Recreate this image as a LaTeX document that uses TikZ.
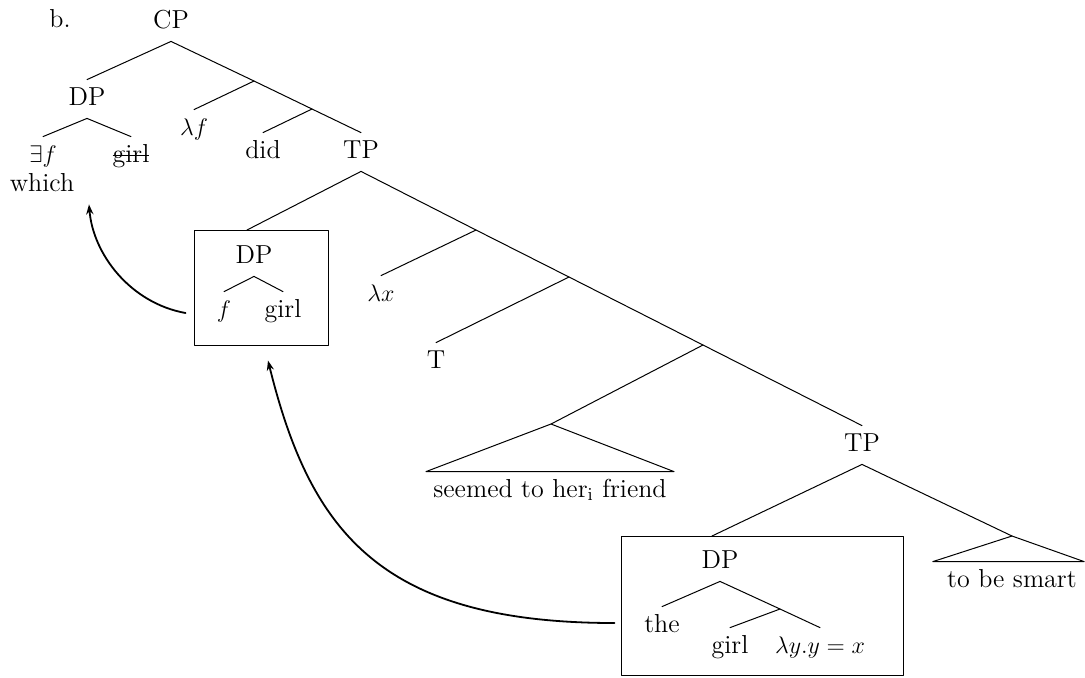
\documentclass[tikz,border=0pt]{standalone}
\usetikzlibrary{arrows.meta}
\newcommand\strikeout[1]{\setbox0\hbox{#1}\rlap{\rule[0.22em]{\wd0}{0.6pt}}\box0}
\begin{document}
\begin{tikzpicture}[x=0.5pt,y=-0.5pt,font=\fontsize{13}{15}\selectfont, line join=round, line cap=round, >=stealth,
	lbl/.style={anchor=base,inner sep=3.5pt,text height=9pt,text depth=3pt},
	br/.style={line width=0.5pt},
	bx/.style={draw,line width=0.5pt,inner sep=0pt},
	mv/.style={-{Stealth[length=5pt,width=3.6pt]},line width=0.9pt}]
				\useasboundingbox (0,0) rectangle (1085,677);
				\path(60,27)node[lbl](ex){b.}
				(171,28)node[lbl](cp){CP}
				(87,105)node[lbl](dp){DP}
				(43,162)node[lbl](ef){$\exists f$}
				(131,162)node[lbl](girla){\strikeout{girl}}
				(ef)++(-1,35)node[lbl](which){which}
				(194,135)node[lbl](lamf){$\lambda f$}
				(263,158)node[lbl](did){did}
				(361,158)node[lbl](tp){TP}
				;
				\path
				(261,287.5)node[bx,minimum width=67pt,minimum height=57.5pt](boxf){}
				(254,263)node[lbl](dpf){DP}
				(224,317)node[lbl](f){$f$}
				(283,317)node[lbl](girlf){girl}
				(381,301)node[lbl](lamx){$\lambda x$}
				(436,368)node[lbl](t){T}
				(550,497)node[lbl](seem){seemed to her$_{\mathrm{i}}$ friend}
				(862,451)node[lbl](tps){TP}
				(1012,587)node[lbl](smart){to be smart}
				;
				\path
				(762,605.5)node[bx,minimum width=141pt,minimum height=69.5pt](boxt){}
				(720,568)node[lbl](dpt){DP}
				(662,632)node[lbl](the){the}
				(730,653)node[lbl](girlt){girl}
				(820,653)node[lbl](lamy){$\lambda y.y=x$}
				;
				\coordinate (c1) at (254,81);
				\coordinate (c2) at (312,109);
				\coordinate (t1) at (476,230);
				\coordinate (t2) at (569,277);
				\coordinate (t3) at (703,345);
				\coordinate (tri1) at (551,424);
				\coordinate (tri2) at (1012,536);
				\coordinate (bf) at (247,230);
				\coordinate (bt) at (712,536);
				\coordinate (d1) at (780,609);
				\draw[br](cp.south)--(dp.north);
				\draw[br](cp.south)--(c1)--(c2)--(tp.north);
				\draw[br](c1)--(lamf.north);
				\draw[br](c2)--(did.north);
				\draw[br](ef.north)--(dp.south)--(girla.north);
				\draw[br](tp.south)--(bf);
				\draw[br](dpf.south)--(f.north);
				\draw[br](dpf.south)--(girlf.north);
				\draw[br](tp.south)--(t1)--(t2)--(t3)--(tps.north);
				\draw[br](t1)--(lamx.north);
				\draw[br](t2)--(t.north);
				\draw[br](t3)--(tri1);
				\draw[br](tri1)--(seem.north west)--(seem.north east)--cycle;
				\draw[br](tps.south)--(bt);
				\draw[br](tps.south)--(tri2);
				\draw[br](tri2)--([xshift=-3.5pt]smart.north west)--(smart.north east)--cycle;
				\draw[br](the.north)--(dpt.south)--(d1)--(lamy.north);
				\draw[br](d1)--(girlt.north);
				\draw[mv]([xshift=-4pt,yshift=-12.75pt]boxf.west).. controls +(-55,-10) and +(4,50) ..([xshift=23.5pt]which.south);
				\draw[mv]([xshift=-3pt,yshift=-8.75pt]boxt.west).. controls +(-235,0) and +(42,170) ..([xshift=3.5pt,yshift=-7.5pt]boxf.south);
		\end{tikzpicture}
\end{document}
